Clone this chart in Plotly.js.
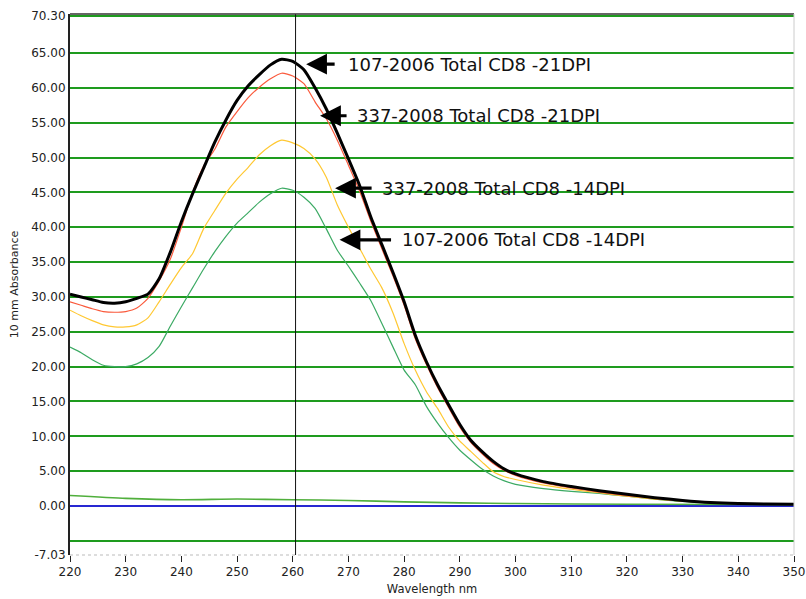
<!DOCTYPE html>
<html>
<head>
<meta charset="utf-8">
<script src="https://cdn.plot.ly/plotly-3.0.1.min.js"></script>
<style>html,body{margin:0;padding:0;background:#fff;}#chart{width:806px;height:599px;}</style>
</head>
<body>
<div id="chart"></div>
<script>
// Wavelength grid (nm)
var wavelength = [220,222,224,226,228,230,232,234,236,238,240,242,244,246,248,250,252,254,256,258,260,262,264,266,268,270,272,274,276,278,280,282,284,286,288,290,292,294,296,298,300,305,310,315,320,325,330,335,340,345,350];

// 107-2006 Total CD8 -21DPI (black)
var cd8_107_21 = [30.4,30.0,29.6,29.2,29.1,29.3,29.8,30.4,32.6,36.4,40.8,44.8,48.5,52.2,55.4,58.2,60.3,61.9,63.3,64.1,63.8,62.6,60.0,57.0,53.5,49.8,46.0,41.5,37.5,33.5,29.3,24.5,20.7,17.4,14.5,11.7,9.4,7.8,6.4,5.3,4.6,3.5,2.8,2.2,1.7,1.2,0.8,0.5,0.35,0.3,0.25];

// 337-2008 Total CD8 -21DPI (red)
var cd8_337_21 = [29.3,28.8,28.3,27.9,27.8,27.9,28.4,29.8,32.3,35.4,40.0,45.0,48.8,51.2,54.4,56.6,58.6,60.1,61.3,62.1,61.7,60.6,58.0,55.6,52.5,48.9,45.2,40.9,36.9,33.0,28.8,24.0,20.3,17.0,14.1,11.3,9.1,7.5,6.1,5.1,4.4,3.3,2.6,2.0,1.5,1.1,0.75,0.5,0.35,0.3,0.25];

// 337-2008 Total CD8 -14DPI (orange)
var cd8_337_14 = [28.1,27.3,26.6,26.0,25.7,25.7,26.0,27.0,29.3,31.8,34.2,36.2,39.8,42.4,44.9,46.9,48.6,50.4,51.7,52.5,52.1,51.3,49.8,47.2,43.2,40.0,37.0,34.0,31.3,27.7,23.3,19.5,16.4,14.0,11.3,9.3,7.8,6.3,4.9,4.2,3.8,3.0,2.4,1.9,1.4,1.0,0.7,0.5,0.35,0.3,0.25];

// 107-2006 Total CD8 -14DPI (green)
var cd8_107_14 = [22.8,22.0,21.0,20.2,20.0,20.0,20.4,21.3,22.9,25.8,28.6,31.3,34.0,36.5,38.7,40.6,42.1,43.6,44.8,45.6,45.3,44.3,42.7,39.8,36.7,34.4,32.0,29.5,26.2,22.8,19.5,17.4,14.3,11.9,9.8,8.0,6.6,5.3,4.3,3.6,3.1,2.5,2.1,1.8,1.4,1.0,0.65,0.45,0.35,0.3,0.25];

// Baseline trace
var baselineWl = [220,230,240,250,260,270,280,290,300,320,350];
var baselineVal = [1.5,1.1,0.9,1.0,0.9,0.8,0.6,0.45,0.35,0.25,0.2];

// Axis ticks
var xTicks = [220,230,240,250,260,270,280,290,300,310,320,330,340,350];
var yTicks = [-7.03,-5,0,5,10,15,20,25,30,35,40,45,50,55,60,65,70.30];
var yTickText = yTicks.map(function(v){ return v === -5 ? '' : v.toFixed(2); });

// Labels
var labels = ['107-2006 Total CD8 -21DPI','337-2008 Total CD8 -21DPI','337-2008 Total CD8 -14DPI','107-2006 Total CD8 -14DPI'];
var cursorWl = 260.5;

var FONT = 'DejaVu Sans, Liberation Sans, Arial, sans-serif';

var traces = [
  {x: baselineWl, y: baselineVal, mode:'lines', line:{color:'rgb(80,175,60)', width:1.6, shape:'spline', smoothing:0.6}},
  {x: wavelength, y: cd8_107_14, mode:'lines', line:{color:'rgb(60,170,100)', width:1.2, shape:'spline', smoothing:0.6}},
  {x: wavelength, y: cd8_337_14, mode:'lines', line:{color:'rgb(255,200,50)', width:1.2, shape:'spline', smoothing:0.6}},
  {x: wavelength, y: cd8_337_21, mode:'lines', line:{color:'rgb(250,90,60)', width:1.2, shape:'spline', smoothing:0.6}},
  {x: wavelength, y: cd8_107_21, mode:'lines', line:{color:'#000', width:3, shape:'spline', smoothing:0.6}}
];

// arrow tips (data coords) and text start
var tips = [[262.4,63.4],[264.9,56.0],[267.6,45.6],[268.4,38.2]];
var tails = [30,28,38,53];
var textX = [269.5,271.1,275.6,279.3];
var annotations = [];
for (var i=0;i<4;i++){
  annotations.push({x:tips[i][0], y:tips[i][1], xref:'x', yref:'y', text:'', showarrow:true,
    ax:tails[i], ay:0, arrowhead:2, arrowsize:1.3, arrowwidth:3.2, arrowcolor:'#000', standoff:0});
  annotations.push({x:textX[i], y:tips[i][1], xref:'x', yref:'y', text:labels[i], showarrow:false,
    xanchor:'left', yanchor:'middle', font:{family:FONT, size:18, color:'#111'}});
}

var layout = {
  width:806, height:599,
  margin:{l:70, r:12, t:14, b:44},
  paper_bgcolor:'#fff', plot_bgcolor:'#fff',
  showlegend:false,
  xaxis:{
    range:[220,350], tickvals:xTicks, ticks:'outside', ticklen:6, tickcolor:'#222', tickwidth:1,
    ticklabeloverflow:'allow',
    showgrid:false, zeroline:false, showline:false,
    tickfont:{family:FONT, size:12, color:'#222'},
    title:{text:'Wavelength nm', font:{family:FONT, size:11.5, color:'#222'}, standoff:6}
  },
  yaxis:{
    range:[-7.03,70.6], tickvals:yTicks, ticktext:yTickText, ticks:'',
    showgrid:true, gridcolor:'rgb(30,155,30)', gridwidth:2,
    zeroline:true, zerolinecolor:'rgb(40,40,210)', zerolinewidth:1.5,
    showline:true, linecolor:'#222', linewidth:2,
    tickfont:{family:FONT, size:12, color:'#222'},
    title:{text:'10 mm Absorbance', font:{family:FONT, size:11, color:'#222'}, standoff:10}
  },
  shapes:[
    {type:'line', xref:'x', yref:'paper', x0:cursorWl, x1:cursorWl, y0:0, y1:1, line:{color:'#111', width:1}},
    {type:'line', xref:'paper', yref:'paper', x0:0, x1:1, y0:1, y1:1, line:{color:'#333', width:1.5}},
    {type:'line', xref:'paper', yref:'paper', x0:1, x1:1, y0:0, y1:1, line:{color:'#ccc', width:1}},
    {type:'line', xref:'paper', yref:'paper', x0:0, x1:1, y0:0, y1:0, line:{color:'#bbb', width:1, dash:'dot'}}
  ],
  annotations:annotations
};

Plotly.newPlot('chart', traces, layout, {displayModeBar:false, staticPlot:true});
</script>
</body>
</html>
